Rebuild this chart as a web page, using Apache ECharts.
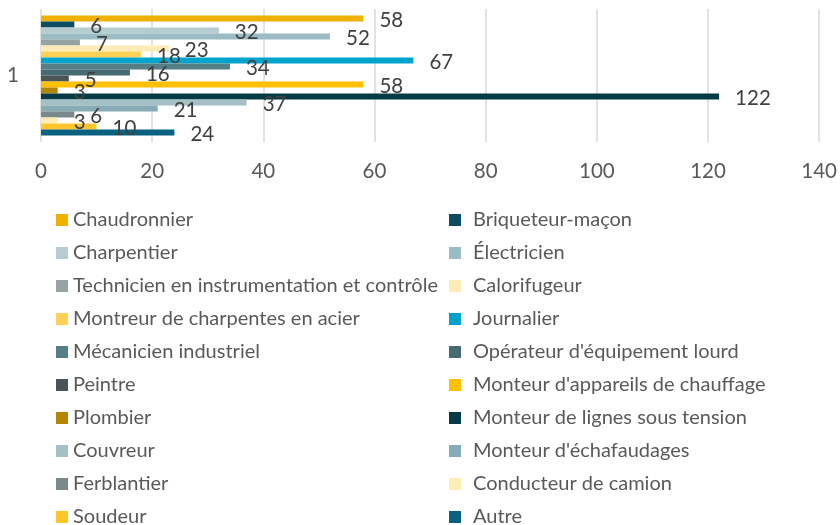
<!DOCTYPE html>
<html>
<head>
<meta charset="utf-8">
<script src="https://cdn.jsdelivr.net/npm/echarts@6/dist/echarts.min.js"></script>
<style>
  html, body { margin: 0; padding: 0; background: #fff; }
  #chart { width: 840px; height: 525px; }
</style>
</head>
<body>
<div id="chart"></div>
<script>
// one category, one bar per trade
const categories = ['1'];

const trades = [
  'Chaudronnier', 'Briqueteur-maçon', 'Charpentier', 'Électricien',
  'Technicien en instrumentation et contrôle', 'Calorifugeur',
  'Montreur de charpentes en acier', 'Journalier', 'Mécanicien industriel',
  "Opérateur d'équipement lourd", 'Peintre', "Monteur d'appareils de chauffage",
  'Plombier', 'Monteur de lignes sous tension', 'Couvreur',
  "Monteur d'échafaudages", 'Ferblantier', 'Conducteur de camion',
  'Soudeur', 'Autre'
];

const counts = [58, 6, 32, 52, 7, 23, 18, 67, 34, 16, 5, 58, 3, 122, 37, 21, 6, 3, 10, 24];

const colors = [
  '#F0B000', '#0E4D61', '#B5CDD0', '#9BBCC4', '#97A3A3', '#FFEBB5',
  '#FFD257', '#00A3CC', '#557E86', '#466B73', '#4A5456', '#FFC000',
  '#B38600', '#053B47', '#A5C0C5', '#87ACB6', '#7A8A8C', '#FFEDB3',
  '#FFC62A', '#0B6180'
];

const xTicks = { min: 0, max: 140, interval: 20 };

const font = 'Lato, "Liberation Sans", sans-serif';

const chart = echarts.init(document.getElementById('chart'));

const legendBase = {
  orient: 'vertical',
  top: 210,
  height: 340,
  padding: 0,
  itemWidth: 12,
  itemHeight: 12,
  itemGap: 13,
  icon: 'rect',
  textStyle: { fontFamily: font, fontSize: 20, color: '#595959' }
};

chart.setOption({
  animation: false,
  color: colors,
  legend: [
    Object.assign({}, legendBase, { left: 56, data: trades.filter((t, i) => i % 2 === 0) }),
    Object.assign({}, legendBase, {
      left: 449,
      data: trades.filter((t, i) => i % 2 === 1),
      textStyle: Object.assign({}, legendBase.textStyle, { padding: [0, 0, 0, 7] })
    })
  ],
  grid: { left: 41, right: 18, top: 9, height: 133 },
  xAxis: {
    type: 'value',
    min: xTicks.min,
    max: xTicks.max,
    interval: xTicks.interval,
    axisLine: { show: false },
    axisTick: { show: false },
    axisLabel: { fontFamily: font, fontSize: 20.5, color: '#595959', margin: 19 },
    splitLine: { lineStyle: { color: '#D9D9D9', width: 1.5 } }
  },
  yAxis: {
    type: 'category',
    inverse: true,
    data: categories,
    axisLine: { show: false },
    axisTick: { show: false },
    axisLabel: { fontFamily: font, fontSize: 20.5, color: '#595959', margin: 22 }
  },
  series: trades.map((name, i) => ({
    name: name,
    type: 'bar',
    data: [counts[i]],
    barWidth: 6,
    barGap: '0%',
    label: {
      show: true,
      position: 'right',
      distance: 16,
      offset: [0, 2],
      fontFamily: font,
      fontSize: 20.5,
      color: '#404040'
    }
  }))
});
</script>
</body>
</html>
